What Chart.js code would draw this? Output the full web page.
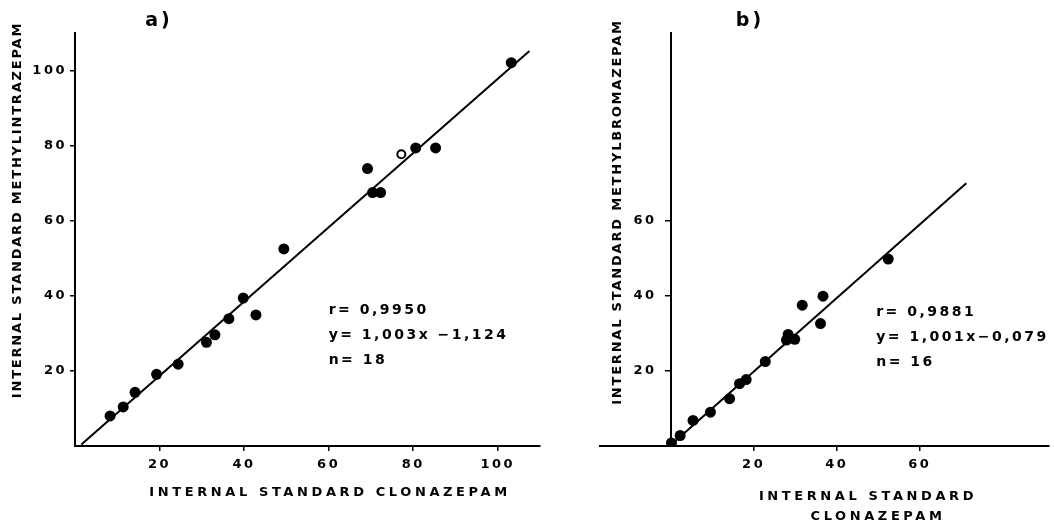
<!DOCTYPE html>
<html>
<head>
<meta charset="utf-8">
<script src="https://cdn.jsdelivr.net/npm/chart.js@4/dist/chart.umd.min.js"></script>
<style>
  html, body { margin: 0; padding: 0; background: #fff; }
  #wrap { position: relative; width: 1054px; height: 524px; }
  #cA { position: absolute; left: 0; top: 0; }
  #cB { position: absolute; left: 560px; top: 0; }
</style>
</head>
<body>
<div id="wrap">
  <canvas id="cA" width="560" height="524"></canvas>
  <canvas id="cB" width="494" height="524"></canvas>
</div>
<script>
// ---- panel a) datos ----
const aX = [8.3, 11.4, 14.2, 19.3, 24.4, 31.1, 33.1, 36.4, 39.8, 42.8, 49.4, 69.2, 70.4, 72.3, 80.6, 85.3, 103.2];
const aY = [8.0, 10.4, 14.3, 19.1, 21.8, 27.6, 29.6, 33.9, 39.4, 34.9, 52.5, 73.9, 67.5, 67.5, 79.4, 79.4, 102.1];
const aOpenX = [77.2];
const aOpenY = [77.7];
const aLineX = [1.5, 107.5];
const aLineY = [0.4, 105.2];
const aTicksX = [20, 40, 60, 80, 100];
const aTicksY = [20, 40, 60, 80, 100];
const aStats = ["r= 0,9950", "y= 1,003x \u22121,124", "n= 18"];

// ---- panel b) ----
const bX = [0.2, 2.3, 5.4, 9.6, 14.2, 16.6, 18.2, 22.8, 27.9, 28.3, 29.9, 31.7, 36.1, 36.7, 52.4];
const bY = [0.8, 2.8, 6.8, 9.0, 12.6, 16.6, 17.7, 22.5, 28.2, 29.7, 28.4, 37.5, 32.6, 39.9, 49.8];
const bLineX = [0, 71.2];
const bLineY = [0.2, 70.0];
const bTicksX = [20, 40, 60];
const bTicksY = [20, 40, 60];
const bStats = ["r= 0,9881", "y= 1,001x\u22120,079", "n= 16"];

const FONT = "'DejaVu Sans', sans-serif";

function puntos(xs, ys) {
  return xs.map((x, i) => ({ x: x, y: ys[i] }));
}

// textos: titulos de ejes, letra del panel y estadisticas
function textosPlugin(cfg) {
  return {
    id: "textos",
    beforeDraw(chart) {
      chart.ctx.letterSpacing = "2.5px"; // afecta a las etiquetas de los ticks
    },
    afterDraw(chart) {
      const ctx = chart.ctx;
      ctx.save();
      ctx.fillStyle = "#000";
      ctx.textAlign = "center";
      ctx.textBaseline = "middle";

      // letra del panel
      ctx.font = "bold 19px " + FONT;
      ctx.letterSpacing = "3px";
      ctx.fillText(cfg.letra, cfg.letraPos[0], cfg.letraPos[1]);

      // titulo eje x (una o dos lineas)
      ctx.font = "bold 13px " + FONT;
      ctx.letterSpacing = "3.6px";
      cfg.xTitulo.forEach((t, i) => {
        ctx.fillText(t, cfg.xTituloPos[i][0], cfg.xTituloPos[i][1]);
      });

      // titulo eje y, girado
      ctx.save();
      ctx.translate(cfg.yTituloPos[0], cfg.yTituloPos[1]);
      ctx.rotate(-Math.PI / 2);
      ctx.letterSpacing = "1.8px";
      ctx.fillText(cfg.yTitulo, 0, 0);
      ctx.restore();

      // estadisticas, ancladas en coordenadas de datos
      const sx = chart.scales.x, sy = chart.scales.y;
      const x0 = sx.getPixelForValue(cfg.statsAncla[0]);
      const y0 = sy.getPixelForValue(cfg.statsAncla[1]);
      ctx.font = "bold 14px " + FONT;
      ctx.letterSpacing = "2.5px";
      ctx.textAlign = "left";
      cfg.stats.forEach((t, i) => {
        ctx.fillText(t, x0, y0 + i * 25);
      });
      ctx.restore();
    }
  };
}

function ejes(ticksX, ticksY, xmin, xmax, yPos, ySufijo) {
  const grid = { drawOnChartArea: false, drawTicks: true, tickLength: 5, color: "#000", lineWidth: 1.5 };
  const border = { display: true, color: "#000", width: 2 };
  const font = { family: FONT, size: 13, weight: "bold" };
  return {
    x: {
      type: "linear", min: xmin, max: xmax, position: "bottom",
      grid: grid, border: border,
      ticks: { color: "#000", font: font, padding: 6, autoSkip: false, maxRotation: 0 },
      afterBuildTicks: s => { s.ticks = ticksX.map(v => ({ value: v })); },
      afterFit: s => { s.height = 78; }
    },
    y: {
      type: "linear", min: 0, max: 110, position: yPos,
      grid: grid, border: border,
      // con posicion {x: 0} chart.js no aplica el padding, se separa con espacios
      ticks: { color: "#000", font: font, padding: 3, autoSkip: false, callback: v => v + ySufijo },
      afterBuildTicks: s => { s.ticks = ticksY.map(v => ({ value: v })); },
      afterFit: s => { s.width = 75; }
    }
  };
}

const opcionesBase = {
  responsive: false,
  animation: false,
  plugins: { legend: { display: false }, tooltip: { enabled: false } }
};

// ---- grafica a) ----
new Chart(document.getElementById("cA"), {
  type: "scatter",
  data: {
    datasets: [
      { data: puntos(aLineX, aLineY), showLine: true, borderColor: "#000", borderWidth: 2, pointRadius: 0 },
      { data: puntos(aX, aY), pointRadius: 5.5, backgroundColor: "#000", borderWidth: 0 },
      { data: puntos(aOpenX, aOpenY), pointRadius: 4, backgroundColor: "#fff", borderColor: "#000", borderWidth: 2 }
    ]
  },
  options: Object.assign({}, opcionesBase, {
    layout: { padding: { left: 0, top: 33, right: 20, bottom: 0 } },
    scales: ejes(aTicksX, aTicksY, 0, 110, "left", "")
  }),
  plugins: [textosPlugin({
    letra: "a)", letraPos: [159, 21],
    xTitulo: ["INTERNAL STANDARD CLONAZEPAM"], xTituloPos: [[330, 493]],
    yTitulo: "INTERNAL STANDARD METHYLINTRAZEPAM", yTituloPos: [18, 210],
    stats: aStats, statsAncla: [60, 36]
  })]
});

// ---- grafica b) ----
new Chart(document.getElementById("cB"), {
  type: "scatter",
  data: {
    datasets: [
      { data: puntos(bLineX, bLineY), showLine: true, borderColor: "#000", borderWidth: 2, pointRadius: 0 },
      { data: puntos(bX, bY), pointRadius: 5.5, backgroundColor: "#000", borderWidth: 0 }
    ]
  },
  options: Object.assign({}, opcionesBase, {
    layout: { padding: { left: 40, top: 33, right: 4, bottom: 0 } },
    scales: ejes(bTicksX, bTicksY, -17, 91, { x: 0 }, "  ")
  }),
  plugins: [textosPlugin({
    letra: "b)", letraPos: [190, 21],
    xTitulo: ["INTERNAL STANDARD", "CLONAZEPAM"], xTituloPos: [[308, 497], [318, 517]],
    yTitulo: "INTERNAL STANDARD METHYLBROMAZEPAM", yTituloPos: [58, 212],
    stats: bStats, statsAncla: [49.5, 35.5]
  })]
});
</script>
</body>
</html>
